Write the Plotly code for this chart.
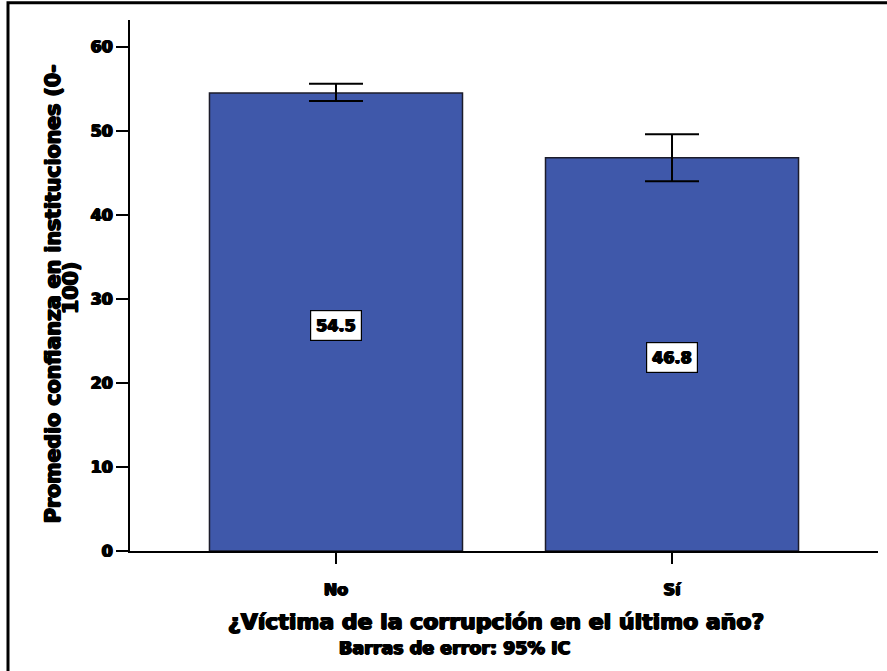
import plotly.graph_objects as go

categories = ["No", "Sí"]
means = [54.5, 46.8]
ci_upper = [55.6, 49.6]
ci_lower = [53.55, 44.0]
value_labels = ["54.5", "46.8"]
y_ticks = [0, 10, 20, 30, 40, 50, 60]

FONT = "DejaVu Sans"
HEAVY = "0.9px 0 0 #000, -0.9px 0 0 #000, 0 0.5px 0 #000, 0 -0.3px 0 #000"
BAR_COLOR = "#3F58AA"


def fnt(size):
    return dict(family=FONT, size=size, color="black", weight="bold", shadow=HEAVY)


x_pos = list(range(len(categories)))
err_plus = [u - m for u, m in zip(ci_upper, means)]
err_minus = [m - l for m, l in zip(means, ci_lower)]

fig = go.Figure()
fig.add_trace(go.Bar(
    x=x_pos,
    y=means,
    marker=dict(color=BAR_COLOR, line=dict(color="#1c1c2a", width=1.5)),
    error_y=dict(type="data", symmetric=False, array=err_plus, arrayminus=err_minus,
                 color="black", thickness=2, width=27),
    hoverinfo="skip",
))

for xp, m, lab in zip(x_pos, means, value_labels):
    fig.add_annotation(
        x=xp, y=m / 2, xref="x", yref="y", text=lab,
        showarrow=False, yshift=-3, xanchor="center", yanchor="middle",
        font=fnt(16),
        bgcolor="white", bordercolor="black", borderwidth=1.2, borderpad=5,
    )

fig.add_annotation(
    x=-0.1029, y=0.484, xref="paper", yref="paper",
    text="Promedio confianza en instituciones (0-",
    textangle=-90, showarrow=False, xanchor="center", yanchor="middle",
    font=fnt(20.5),
)
fig.add_annotation(
    x=-0.0789, y=0.4953, xref="paper", yref="paper",
    text="100)",
    textangle=-90, showarrow=False, xanchor="center", yanchor="middle",
    font=fnt(20.5),
)
fig.add_annotation(
    x=0.4893, y=-0.1337, xref="paper", yref="paper",
    text="¿Víctima de la corrupción en el último año?",
    showarrow=False, xanchor="center", yanchor="middle",
    font=fnt(22),
)
fig.add_annotation(
    x=0.4332, y=-0.1827, xref="paper", yref="paper",
    text="Barras de error: 95% IC",
    showarrow=False, xanchor="center", yanchor="middle",
    font=fnt(17.5),
)

# outer frame
fig.add_shape(type="rect", xref="paper", yref="paper",
              x0=-0.1631, x1=1.02, y0=-0.24, y1=1.0325,
              line=dict(color="black", width=3))

fig.update_layout(
    width=887, height=671,
    margin=dict(l=130, r=9, t=20, b=120),
    paper_bgcolor="white", plot_bgcolor="white",
    bargap=0.247,
    showlegend=False,
    xaxis=dict(
        range=[-0.613, 1.613], tickvals=x_pos, ticktext=categories,
        showline=True, linecolor="black", linewidth=2,
        ticks="outside", ticklen=11, tickwidth=1.5, tickcolor="black",
        showgrid=False, zeroline=False, ticklabelstandoff=12,
        tickfont=fnt(16),
    ),
    yaxis=dict(
        range=[0, 63.2], tickvals=y_ticks,
        showline=True, linecolor="black", linewidth=2,
        ticks="outside", ticklen=12, tickwidth=2, tickcolor="black",
        showgrid=False, zeroline=False,
        tickfont=fnt(16),
    ),
)

fig.write_html("out.html", config={"displayModeBar": False},
               post_script="document.body.style.margin='0';document.body.style.overflow='hidden';")
